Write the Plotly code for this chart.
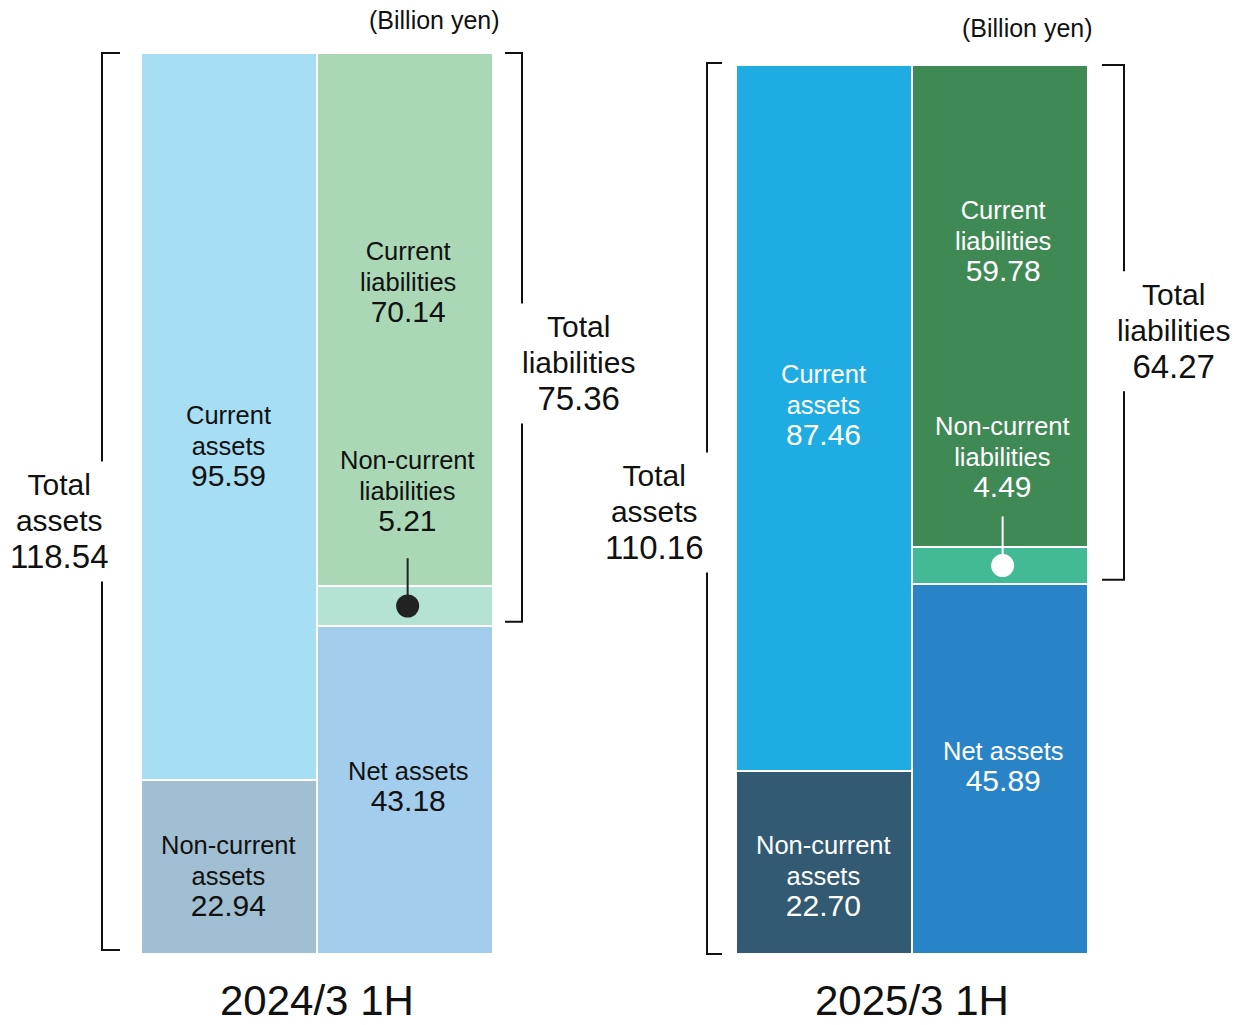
import plotly.graph_objects as go

# ---------------- data ----------------
periods = ["2024/3 1H", "2025/3 1H"]
current_assets = [95.59, 87.46]
noncurrent_assets = [22.94, 22.70]
current_liabilities = [70.14, 59.78]
noncurrent_liabilities = [5.21, 4.49]
net_assets = [43.18, 45.89]
total_assets = [118.54, 110.16]
total_liabilities = [75.36, 64.27]
unit_label = "(Billion yen)"

# ---------------- style / geometry ----------------
W, H = 1236, 1025
FONT = "Arial, 'Liberation Sans', sans-serif"
COLW = 176  # px width of one column
palette = [
    dict(ca="#A6DEF4", nca="#A1BFD3", cl="#AAD8B6", ncl="#B4E3D4", na="#A3CDED",
         text="#111111", dot="#222222"),
    dict(ca="#1FACE3", nca="#325A72", cl="#3F8955", ncl="#43BA96", na="#2884C6",
         text="#FFFFFF", dot="#FFFFFF"),
]
geom = [dict(top=53, base=954, left=141), dict(top=65, base=954, left=736)]
# label pixel shifts (positive = up)
shifts = [
    dict(ca=-30, nca=-10, cl=37, ncl=95, na=3, ta=-18, tl=-24, ptr=28),
    dict(ca=12, nca=-14, cl=65, ncl=90, na=2, ta=-3, tl=-7, ptr=31),
]
xoff = [dict(a=-0.005, b=0.015), dict(a=-0.005, b=0.015)]
unit_pos = [dict(x=1.17, ypx=20), dict(x=1.159, ypx=28)]


def lbl(words, value):
    body = "<br>".join("<span style='font-size:25.5px'>%s</span>" % w for w in words)
    return body + "<br><span style='font-size:30px'>%.2f</span>" % value


def tlbl(words, value):
    body = "<br>".join("<span style='font-size:30px'>%s</span>" % w for w in words)
    return body + "<br><span style='font-size:33px'>%.2f</span>" % value


fig = go.Figure()
layout_axes = {}
annotations = []

for i in range(2):
    g = geom[i]
    c = palette[i]
    s = shifts[i]
    xs = "x" if i == 0 else "x2"
    ys = "y" if i == 0 else "y2"
    xa = "xaxis" if i == 0 else "xaxis2"
    ya = "yaxis" if i == 0 else "yaxis2"
    k = (g["base"] - g["top"]) / total_assets[i]  # px per unit
    dom_left = i * W / 2
    r0 = -0.5 - (g["left"] - dom_left) / COLW
    r1 = r0 + (W / 2) / COLW
    layout_axes[xa] = dict(domain=[i * 0.5, (i + 1) * 0.5], range=[r0, r1], visible=False,
                           fixedrange=True, anchor=ys)
    layout_axes[ya] = dict(domain=[0, 1], range=[-(H - g["base"]) / k, total_assets[i] + g["top"] / k],
                           visible=False, fixedrange=True, anchor=xs)

    line = dict(color="white", width=2)
    # assets column
    for val, col in [(noncurrent_assets[i], c["nca"]), (current_assets[i], c["ca"])]:
        fig.add_trace(go.Bar(x=[0], y=[val], width=1, marker=dict(color=col, line=line),
                             xaxis=xs, yaxis=ys, showlegend=False, hoverinfo="skip"))
    # liabilities + net assets column
    for val, col in [(net_assets[i], c["na"]), (noncurrent_liabilities[i], c["ncl"]),
                     (current_liabilities[i], c["cl"])]:
        fig.add_trace(go.Bar(x=[1], y=[val], width=1, marker=dict(color=col, line=line),
                             xaxis=xs, yaxis=ys, showlegend=False, hoverinfo="skip"))

    tf = dict(family=FONT, size=24, color=c["text"])

    def ann(x, y, text, ysh, font):
        annotations.append(dict(x=x, y=y, xref=xs, yref=ys, text=text, showarrow=False,
                                yshift=ysh, font=font, xanchor="center", yanchor="middle",
                                align="center"))

    xa0 = 0 + xoff[i]["a"]
    xb0 = 1 + xoff[i]["b"]
    ann(xa0, noncurrent_assets[i] + current_assets[i] / 2,
        lbl(["Current", "assets"], current_assets[i]), s["ca"], tf)
    ann(xa0, noncurrent_assets[i] / 2,
        lbl(["Non-current", "assets"], noncurrent_assets[i]), s["nca"], tf)
    top_ncl = net_assets[i] + noncurrent_liabilities[i]
    ann(xb0, top_ncl + current_liabilities[i] / 2,
        lbl(["Current", "liabilities"], current_liabilities[i]), s["cl"], tf)
    ann(xb0, top_ncl, lbl(["Non-current", "liabilities"], noncurrent_liabilities[i]), s["ncl"], tf)
    ann(xb0, net_assets[i] / 2, lbl(["Net assets"], net_assets[i]), s["na"], tf)

    # pointer to non-current liabilities
    ymid = net_assets[i] + noncurrent_liabilities[i] / 2
    fig.add_trace(go.Scatter(x=[xb0, xb0], y=[ymid, top_ncl + s["ptr"] / k], mode="lines",
                             line=dict(color=c["dot"], width=2), xaxis=xs, yaxis=ys,
                             showlegend=False, hoverinfo="skip"))
    fig.add_trace(go.Scatter(x=[xb0], y=[ymid], mode="markers",
                             marker=dict(color=c["dot"], size=23, line=dict(width=0)),
                             xaxis=xs, yaxis=ys, showlegend=False, hoverinfo="skip"))

    # brackets
    bf = dict(family=FONT, size=28, color="#111111")
    bl = dict(color="#111111", width=2)

    # total assets bracket (left side)
    xv = -0.5 - 39 / COLW - (0 if i == 0 else -10 / COLW)
    xt = xv + (18 if i == 0 else 15) / COLW
    ta_top = total_assets[i] - (0 if i == 0 else -2 / k)
    ta_bot = 0 + (4 / k if i == 0 else 0)
    ta_lab = total_assets[i] / 2 + s["ta"] / k
    gap = 60 / k
    fig.add_trace(go.Scatter(x=[xt, xv, xv], y=[ta_top, ta_top, ta_lab + gap], mode="lines",
                             line=bl, xaxis=xs, yaxis=ys, showlegend=False, hoverinfo="skip"))
    fig.add_trace(go.Scatter(x=[xv, xv, xt], y=[ta_lab - gap, ta_bot, ta_bot], mode="lines",
                             line=bl, xaxis=xs, yaxis=ys, showlegend=False, hoverinfo="skip"))
    annotations.append(dict(x=-0.966, y=ta_lab, xref=xs, yref=ys, showarrow=False,
                            text=tlbl(["Total", "assets"], total_assets[i]),
                            font=bf, xanchor="center", yanchor="middle", align="center"))

    # total liabilities bracket (right side)
    xv2 = 1.5 + (29 if i == 0 else 36) / COLW
    xt2 = xv2 - (17 if i == 0 else 22) / COLW
    tl_top = total_assets[i]
    tl_bot = net_assets[i] + 4 / k
    tl_lab = (net_assets[i] + total_assets[i]) / 2 + s["tl"] / k
    fig.add_trace(go.Scatter(x=[xt2, xv2, xv2], y=[tl_top, tl_top, tl_lab + gap], mode="lines",
                             line=bl, xaxis=xs, yaxis=ys, showlegend=False, hoverinfo="skip"))
    fig.add_trace(go.Scatter(x=[xv2, xv2, xt2], y=[tl_lab - gap, tl_bot, tl_bot], mode="lines",
                             line=bl, xaxis=xs, yaxis=ys, showlegend=False, hoverinfo="skip"))
    annotations.append(dict(x=1.983, y=tl_lab, xref=xs, yref=ys, showarrow=False,
                            text=tlbl(["Total", "liabilities"], total_liabilities[i]),
                            font=bf, xanchor="center", yanchor="middle", align="center"))

    # period label
    annotations.append(dict(x=0.5, y=1 - 1000 / H, xref=xs, yref="paper", showarrow=False,
                            text=periods[i], font=dict(family=FONT, size=42, color="#111111"),
                            xanchor="center", yanchor="middle"))
    # unit label
    annotations.append(dict(x=unit_pos[i]["x"], y=1 - unit_pos[i]["ypx"] / H, xref=xs,
                            yref="paper", showarrow=False, text=unit_label,
                            font=dict(family=FONT, size=25, color="#111111"),
                            xanchor="center", yanchor="middle"))

fig.update_layout(
    width=W, height=H, margin=dict(l=0, r=0, t=0, b=0, pad=0),
    barmode="stack", bargap=0, plot_bgcolor="white", paper_bgcolor="white",
    showlegend=False, annotations=annotations, **layout_axes,
)

fig.write_html("out.html", config={"displayModeBar": False},
               post_script="document.body.style.margin='0';")
